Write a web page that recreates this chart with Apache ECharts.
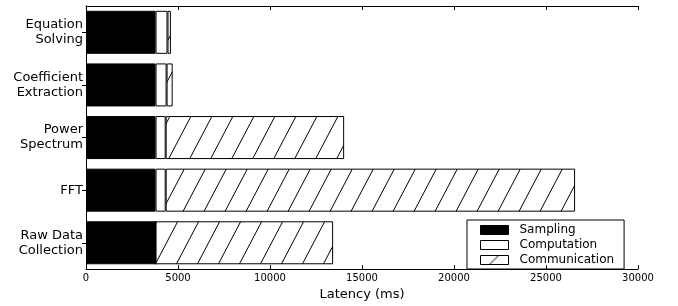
<!DOCTYPE html>
<html><head><meta charset="utf-8">
<script src="https://cdn.jsdelivr.net/npm/echarts@6/dist/echarts.min.js"></script>
<style>html,body{margin:0;padding:0;background:#fff}#c{width:678px;height:306px}</style>
</head><body><div id="c"></div>
<script>
// bottom-to-top order
const categories = ['Raw Data\nCollection', 'FFT', 'Power\nSpectrum', 'Coefficient\nExtraction', 'Equation\nSolving'];
const sampling = [3780, 3780, 3780, 3780, 3780];
const computation = [0, 550, 550, 600, 650];
const communication = [9650, 22250, 9700, 330, 185];
const xTicks = [0, 5000, 10000, 15000, 20000, 25000, 30000];

function hatch(w, h, lines) {
  const cv = document.createElement('canvas');
  cv.width = w; cv.height = h;
  const g = cv.getContext('2d');
  g.fillStyle = '#fff'; g.fillRect(0, 0, w, h);
  g.strokeStyle = '#000'; g.lineWidth = 1;
  for (const l of lines) {
    g.beginPath(); g.moveTo(l[0], l[1]); g.lineTo(l[2], l[3]); g.stroke();
  }
  return cv;
}
const pat = { image: hatch(21, 40, [[-21, 40, 0, 0], [0, 40, 21, 0], [21, 40, 42, 0]]), repeat: 'repeat' };
const legendPat = { image: hatch(28, 9, [[9, 9, 18, 0]]), repeat: 'repeat' };
const font = 'DejaVu Sans';
const chart = echarts.init(document.getElementById('c'), null, { renderer: 'canvas' });
const barBase = { type: 'bar', stack: 'total', barWidth: 43, animation: false };
const lgBorder = { borderColor: '#000', borderWidth: 1, borderType: 'solid' };
chart.setOption({
  animation: false,
  grid: { left: 86, right: 40, top: 6, bottom: 32 },
  xAxis: [
    { type: 'value', min: xTicks[0], max: xTicks[xTicks.length - 1], interval: 5000, position: 'bottom',
      axisLine: { show: true, lineStyle: { color: '#000', width: 1 } },
      axisTick: { show: true, inside: true, length: 4, lineStyle: { color: '#000' } },
      axisLabel: { color: '#000', fontFamily: font, fontSize: 10, margin: 4, formatter: v => String(v) },
      splitLine: { show: false },
      name: 'Latency (ms)', nameLocation: 'middle', nameGap: 16,
      nameTextStyle: { color: '#000', fontFamily: font, fontSize: 13 } },
    { type: 'value', min: xTicks[0], max: xTicks[xTicks.length - 1], interval: 5000, position: 'top',
      axisLine: { show: true, lineStyle: { color: '#000', width: 1 } },
      axisTick: { show: true, inside: true, length: 4, lineStyle: { color: '#000' } },
      axisLabel: { show: false }, splitLine: { show: false } }
  ],
  yAxis: [
    { type: 'category', data: categories, position: 'left',
      axisLine: { show: true, lineStyle: { color: '#000', width: 1 } },
      axisTick: { show: true, inside: true, alignWithLabel: true, length: 4, lineStyle: { color: '#000' } },
      axisLabel: { color: '#000', fontFamily: font, fontSize: 13, lineHeight: 15, margin: 3, align: 'right' } },
    { type: 'category', data: categories, position: 'right',
      axisLine: { show: true, lineStyle: { color: '#000', width: 1 } },
      axisTick: { show: true, inside: true, alignWithLabel: true, length: 4, lineStyle: { color: '#000' } },
      axisLabel: { show: false } }
  ],
  legend: {
    left: 467, top: 220, orient: 'vertical',
    data: [
      { name: 'Sampling', itemStyle: Object.assign({ color: '#000' }, lgBorder) },
      { name: 'Computation', itemStyle: Object.assign({ color: '#fff' }, lgBorder) },
      { name: 'Communication', itemStyle: Object.assign({ color: legendPat }, lgBorder) }],
    borderColor: '#000', borderWidth: 1, borderRadius: 0,
    padding: [4, 10, 3, 13], itemGap: 3, itemWidth: 28, itemHeight: 9,
    icon: 'rect',
    textStyle: { color: '#000', fontFamily: font, fontSize: 12, lineHeight: 12, padding: [0, 0, 0, 6] }
  },
  series: [
    Object.assign({}, barBase, { name: 'Sampling', data: sampling,
      itemStyle: { color: '#000', borderColor: '#000', borderWidth: 1 } }),
    Object.assign({}, barBase, { name: 'Computation', data: computation,
      itemStyle: { color: '#fff', borderColor: '#000', borderWidth: 1 } }),
    Object.assign({}, barBase, { name: 'Communication', data: communication,
      itemStyle: { color: pat, borderColor: '#000', borderWidth: 1 } })
  ]
});
</script></body></html>
